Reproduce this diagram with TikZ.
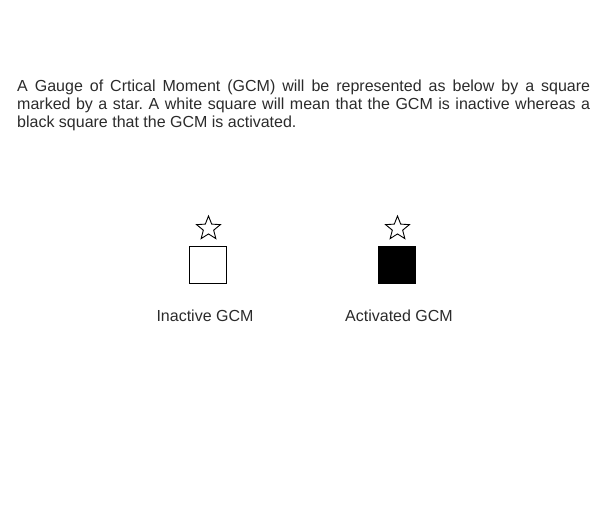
\documentclass[tikz,border=0pt]{standalone}
\usepackage{fontspec}
\setmainfont{Liberation Sans}
\usetikzlibrary{shapes.geometric}
\definecolor{txt}{HTML}{2B2B2B}
\frenchspacing
\tikzset{
  para/.style={text width=573pt, align=justify, inner sep=0pt, anchor=base west,
    font=\fontsize{16}{18}\selectfont, text=txt},
  caption/.style={inner sep=0pt, anchor=base, font=\fontsize{16}{18}\selectfont, text=txt},
  gauge/.style={draw=black, line width=1pt, minimum size=37pt, inner sep=0pt},
  gstar/.style={star, star points=5, star point ratio=2.3, draw=black, line width=0.9pt,
    minimum size=25pt, inner sep=0pt, fill=white}
}
\begin{document}
\begin{tikzpicture}[x=1pt, y=-1pt]
\useasboundingbox (0,0) rectangle (605,530);
\node[para] (intro) at (17,91) {\frenchspacing\hyphenpenalty=10000 A Gauge of Crtical Moment (GCM) will be represented as below by a square\linebreak marked by a star. A white square will mean that the GCM is inactive whereas a\linebreak black square that the GCM is activated.};
\node[gauge, fill=white] (inactive) at (208,265) {};
\node[gauge, fill=black] (active) at (397,265) {};
\node[gstar] (star1) at (208.5,228.5) {};
\node[gstar] (star2) at (397.5,228.5) {};
\node[caption] (cap1) at (205,321) {Inactive GCM};
\node[caption] (cap2) at (399,321) {Activated GCM};
\end{tikzpicture}
\end{document}
